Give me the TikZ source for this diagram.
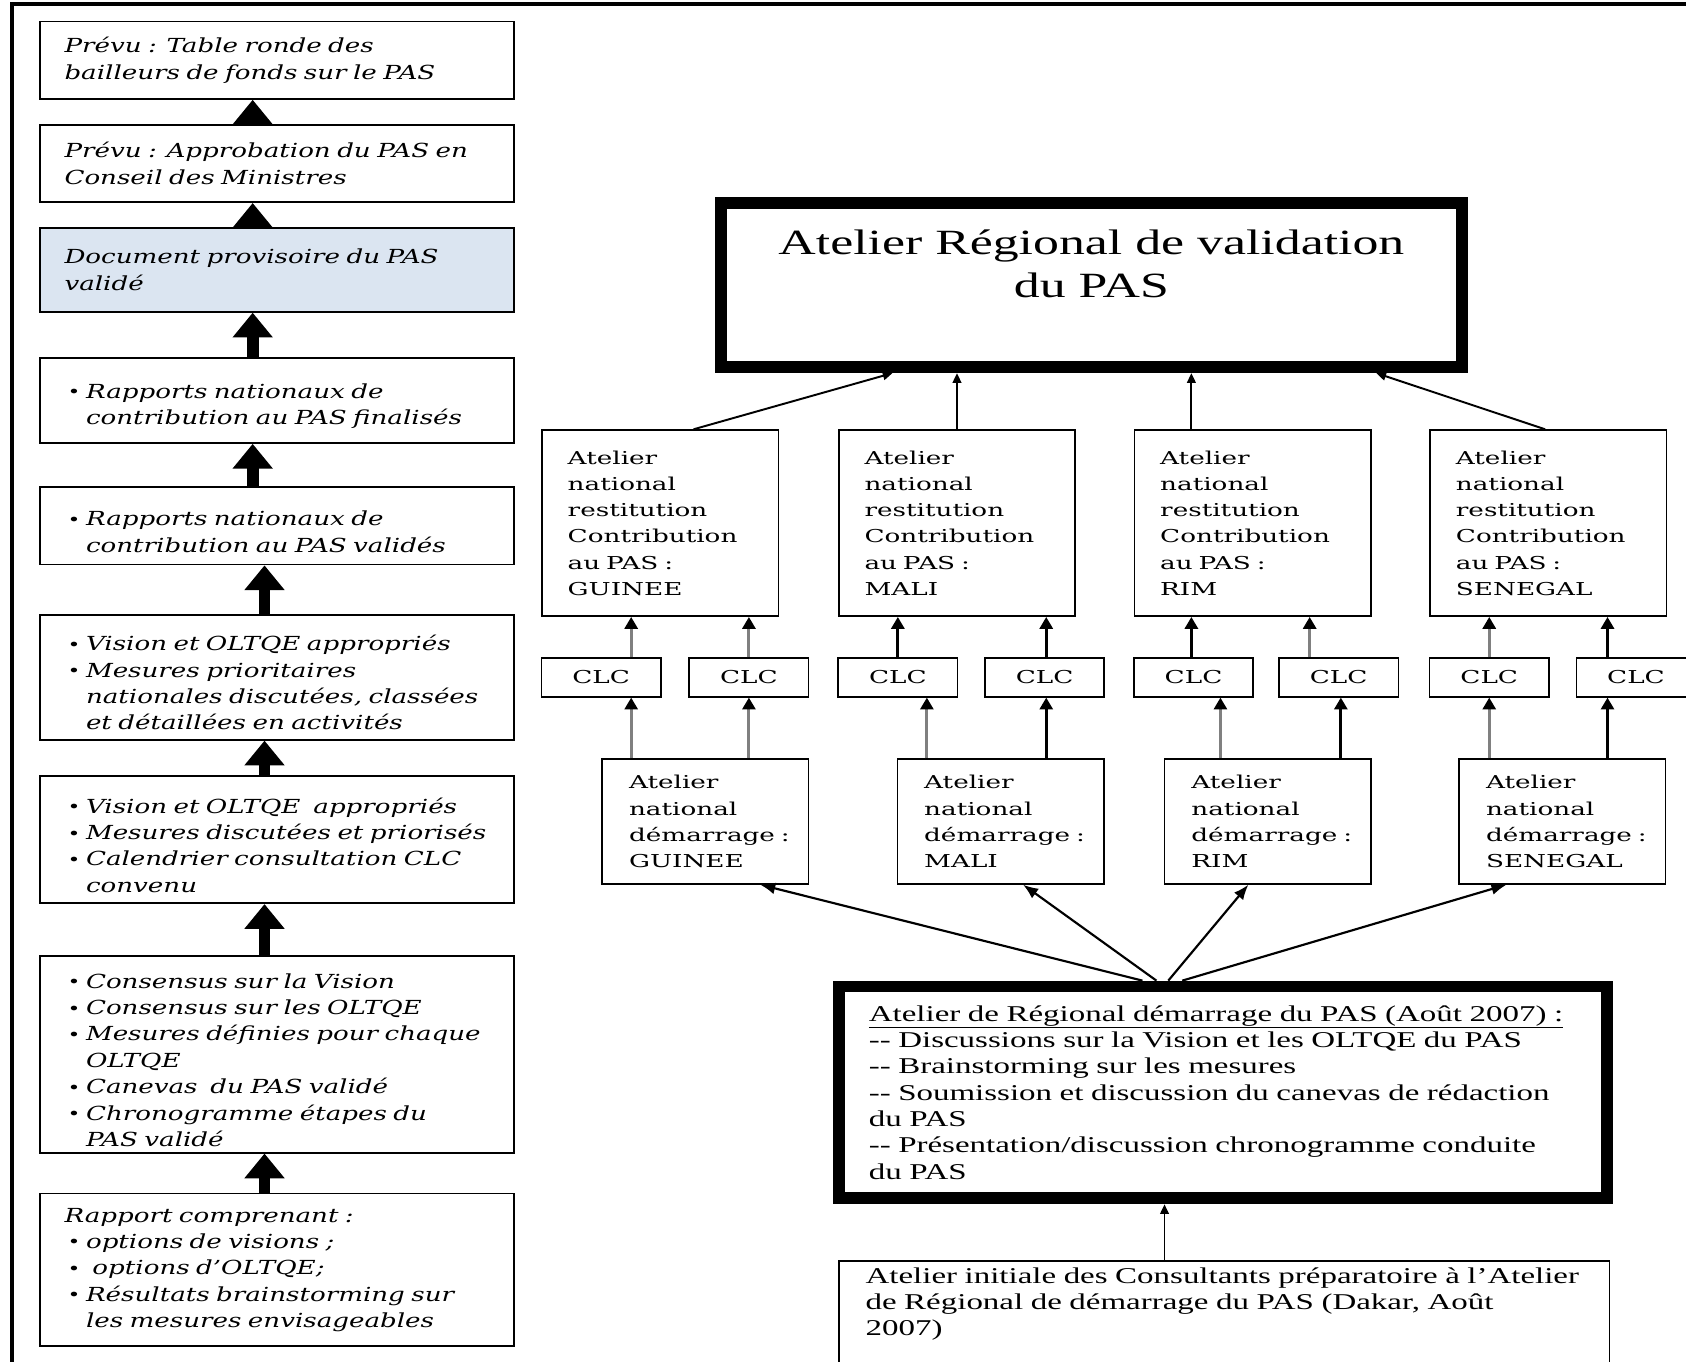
\documentclass[tikz,border=0pt]{standalone}
\usepackage{fontspec}
\setmainfont{Liberation Serif}
\newfontfamily\leftserif[FakeStretch=1.35]{DejaVu Serif}
\newfontfamily\natserif[FakeStretch=1.48]{DejaVu Serif}
\newfontfamily\wideserif[FakeStretch=1.46]{Liberation Serif}
\usetikzlibrary{arrows.meta}

\definecolor{paleblue}{RGB}{219,229,241}
\definecolor{arrowgray}{RGB}{128,128,128}

\newcommand{\leftfont}{\leftserif\itshape\fontsize{18}{24.5}\selectfont}
\newcommand{\natfont}{\natserif\fontsize{16.5}{24.4}\selectfont}
\newcommand{\puce}[1]{\par\hangindent=20pt\hangafter=1\noindent\makebox[20pt][l]{\hspace{3pt}\raisebox{0.5pt}{\fontsize{15}{15}\selectfont\textbullet}}#1\par}

\begin{document}
\begin{tikzpicture}[x=1pt, y=-1pt,
    leftbox/.style={draw, line width=1.6pt, minimum width=441pt, text width=395pt, inner xsep=23pt, align=left, font=\leftfont},
    restbox/.style={draw, line width=1.5pt, minimum width=220pt, minimum height=173pt, inner xsep=24pt, text width=172pt, align=left, font=\natfont},
    clcbox/.style={draw, line width=1.5pt, minimum width=111pt, minimum height=36pt, inner sep=0pt, font=\natfont},
    dembox/.style={draw, line width=1.5pt, minimum width=192pt, minimum height=116pt, inner xsep=25pt, text width=142pt, align=left, font=\natfont},
    thickbox/.style={draw, line width=11pt},
    blockarrow/.style={line width=11pt, -{Triangle[width=36pt,length=23pt]}},
    thinarrow/.style={line width=1.8pt, -{Triangle[width=8pt,length=9pt]}},
    clcarrow/.style={line width=2.8pt, -{Triangle[width=12pt,length=11pt]}},
    grayarrow/.style={line width=2.8pt, draw=arrowgray, -{Triangle[width=12pt,length=11pt,color=black]}},
    fanarrow/.style={line width=2pt, -{Latex[width=11pt,length=14pt]}}]

    \useasboundingbox (0,0) rectangle (1568,1266);
    \clip (0,0) rectangle (1568,1266);
    \draw[line width=4pt] (11,3.5) rectangle (1620,1320);

    % left column
    \node[leftbox, minimum height=72pt] (prevutable) at (257.5,56) {Prévu : Table ronde des\\bailleurs de fonds sur le PAS};
    \node[leftbox, minimum height=72pt] (prevuappro) at (257.5,152) {Prévu : Approbation du PAS en\\Conseil des Ministres};
    \node[leftbox, minimum height=78pt, fill=paleblue] (docprov) at (257.5,251) {Document provisoire du PAS\\validé};
    \node[leftbox, minimum height=79pt] (rapfinal) at (257.5,372.5) {\puce{Rapports nationaux de\newline contribution au PAS finalisés}};
    \node[leftbox, minimum height=72pt] (rapvalid) at (257.5,489) {\puce{Rapports nationaux de\newline contribution au PAS validés}};
    \node[leftbox, minimum height=116pt] (visionprio) at (257.5,630) {\puce{Vision et OLTQE appropriés}\puce{Mesures prioritaires\newline nationales discutées, classées\newline et détaillées en activités}};
    \node[leftbox, minimum height=118pt] (visioncal) at (257.5,781) {\puce{Vision et OLTQE\ \ appropriés}\puce{Mesures discutées et priorisés}\puce{Calendrier consultation CLC\newline convenu}};
    \node[leftbox, minimum height=183pt] (consensus) at (257.5,980.5) {\puce{Consensus sur la Vision}\puce{Consensus sur les OLTQE}\puce{Mesures définies pour chaque\newline OLTQE}\puce{Canevas\ \ du PAS validé}\puce{Chronogramme étapes du\newline PAS validé}};
    \node[leftbox, minimum height=142pt] (rapport) at (257.5,1181) {Rapport comprenant :\puce{options de visions ;}\puce{\ options d’OLTQE;}\puce{Résultats brainstorming sur\newline les mesures envisageables}};

    \draw[blockarrow] ([xshift=-22.5pt]prevuappro.north) to ([xshift=-22.5pt]prevutable.south);
    \draw[blockarrow] ([xshift=-22.5pt]docprov.north) to ([xshift=-22.5pt]prevuappro.south);
    \draw[blockarrow] ([xshift=-22.5pt]rapfinal.north) to ([xshift=-22.5pt]docprov.south);
    \draw[blockarrow] ([xshift=-22.5pt]rapvalid.north) to ([xshift=-22.5pt]rapfinal.south);
    \draw[blockarrow] ([xshift=-11.5pt]visionprio.north) to ([xshift=-11.5pt]rapvalid.south);
    \draw[blockarrow] ([xshift=-11.5pt]visioncal.north) to ([xshift=-11.5pt]visionprio.south);
    \draw[blockarrow] ([xshift=-11.5pt]consensus.north) to ([xshift=-11.5pt]visioncal.south);
    \draw[blockarrow] ([xshift=-11.5pt]rapport.north) to ([xshift=-11.5pt]consensus.south);

    % right part
    \node[thickbox, minimum width=689pt, minimum height=153pt, align=center, font=\wideserif\fontsize{33}{40}\selectfont] (valid) at (1015,265) {Atelier Régional de validation\\du PAS\\\mbox{}};

    \node[restbox] (restgui) at (614,486.5) {Atelier\\national\\restitution\\Contribution\\au PAS~:\\GUINEE};
    \node[restbox] (restmali) at (890,486.5) {Atelier\\national\\restitution\\Contribution\\au PAS~:\\MALI};
    \node[restbox] (restrim) at (1165,486.5) {Atelier\\national\\restitution\\Contribution\\au PAS~:\\RIM};
    \node[restbox] (restsen) at (1440,486.5) {Atelier\\national\\restitution\\Contribution\\au PAS~:\\SENEGAL};

    \node[clcbox] (clcgui1) at (559,630) {CLC};
    \node[clcbox] (clcgui2) at (696.5,630) {CLC};
    \node[clcbox] (clcmali1) at (835,630) {CLC};
    \node[clcbox] (clcmali2) at (971.5,630) {CLC};
    \node[clcbox] (clcrim1) at (1110,630) {CLC};
    \node[clcbox] (clcrim2) at (1245,630) {CLC};
    \node[clcbox] (clcsen1) at (1385,630) {CLC};
    \node[clcbox] (clcsen2) at (1521.5,630) {CLC};

    \node[dembox] (demgui) at (656,764) {Atelier\\national\\démarrage~:\\GUINEE};
    \node[dembox] (demmali) at (930.5,764) {Atelier\\national\\démarrage~:\\MALI};
    \node[dembox] (demrim) at (1179,764) {Atelier\\national\\démarrage~:\\RIM};
    \node[dembox] (demsen) at (1453,764) {Atelier\\national\\démarrage~:\\SENEGAL};

    \node[thickbox, minimum width=714pt, minimum height=197pt, inner xsep=27.5pt, text width=659pt, align=left, font=\wideserif\fontsize{21}{24.5}\selectfont] (regdem) at (1137.5,1016) {\underline{Atelier de Régional démarrage du PAS (Août 2007) :}\\-{}- Discussions sur la Vision et les OLTQE du PAS\\-{}- Brainstorming sur les mesures\\-{}- Soumission et discussion du canevas de rédaction\\du PAS\\-{}- Présentation/discussion chronogramme conduite\\du PAS};

    \node[draw, line width=1.5pt, anchor=north, minimum width=717pt, inner xsep=25pt, inner ysep=6pt, text width=667pt, align=left, font=\wideserif\fontsize{21}{24.5}\selectfont] (initcons) at (1138.5,1172) {Atelier initiale des Consultants préparatoire à l’Atelier\\de Régional de démarrage du PAS (Dakar, Août\\2007)\\[60pt]\mbox{}};

    \draw[thinarrow] ([xshift=31pt]restgui.north) to ([xshift=-185pt]valid.south);
    \draw[thinarrow] (restmali.north) to ([xshift=-125pt]valid.south);
    \draw[thinarrow] ([xshift=-57pt]restrim.north) to ([xshift=93pt]valid.south);
    \draw[thinarrow] ([xshift=-3pt]restsen.north) to ([xshift=265pt]valid.south);

    \draw[grayarrow] ([xshift=28pt]clcgui1.north) to ([xshift=-27pt]restgui.south);
    \draw[grayarrow] (clcgui2.north) to ([xshift=82.5pt]restgui.south);
    \draw[clcarrow] (clcmali1.north) to ([xshift=-55pt]restmali.south);
    \draw[clcarrow] ([xshift=1.5pt]clcmali2.north) to ([xshift=83pt]restmali.south);
    \draw[clcarrow] ([xshift=-2pt]clcrim1.north) to ([xshift=-57pt]restrim.south);
    \draw[grayarrow] ([xshift=-27pt]clcrim2.north) to ([xshift=53pt]restrim.south);
    \draw[grayarrow] (clcsen1.north) to ([xshift=-55pt]restsen.south);
    \draw[clcarrow] ([xshift=-26.5pt]clcsen2.north) to ([xshift=55pt]restsen.south);

    \draw[grayarrow] ([xshift=-69pt]demgui.north) to ([xshift=28pt]clcgui1.south);
    \draw[grayarrow] ([xshift=40.5pt]demgui.north) to (clcgui2.south);
    \draw[grayarrow] ([xshift=-68.5pt]demmali.north) to ([xshift=27pt]clcmali1.south);
    \draw[clcarrow] ([xshift=42.5pt]demmali.north) to ([xshift=1.5pt]clcmali2.south);
    \draw[grayarrow] ([xshift=-44pt]demrim.north) to ([xshift=25pt]clcrim1.south);
    \draw[clcarrow] ([xshift=68pt]demrim.north) to ([xshift=2pt]clcrim2.south);
    \draw[grayarrow] ([xshift=-68pt]demsen.north) to (clcsen1.south);
    \draw[clcarrow] ([xshift=42pt]demsen.north) to ([xshift=-26.5pt]clcsen2.south);

    \draw[fanarrow] ([xshift=-75pt]regdem.north) to ([xshift=51pt]demgui.south);
    \draw[fanarrow] ([xshift=-62pt]regdem.north) to ([xshift=21pt]demmali.south);
    \draw[fanarrow] ([xshift=-51pt]regdem.north) to ([xshift=-18pt]demrim.south);
    \draw[fanarrow] ([xshift=-38pt]regdem.north) to ([xshift=-52pt]demsen.south);

    \draw[thinarrow] ([xshift=-55.5pt]initcons.north) to ([xshift=-54.5pt]regdem.south);
\end{tikzpicture}
\end{document}
